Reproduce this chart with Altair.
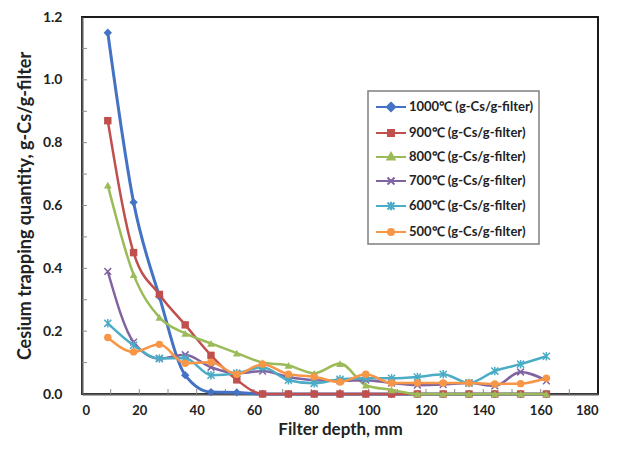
import altair as alt
import pandas as pd

depth = [9, 18, 27, 36, 45, 54, 63, 72, 81, 90, 99, 108, 117, 126, 135, 144, 153, 162]

s1000 = [1.15, 0.61, 0.31, 0.06, 0.006, 0.005, 0, 0, 0, 0, 0, 0, 0, 0, 0, 0, 0, 0]
s900 = [0.87, 0.45, 0.317, 0.22, 0.123, 0.045, 0, 0, 0, 0, 0, 0, 0, 0, 0, 0, 0, 0]
s800 = [0.665, 0.38, 0.244, 0.193, 0.161, 0.13, 0.1, 0.091, 0.066, 0.097, 0.028, 0.013, 0, 0, 0, 0, 0, 0]
s700 = [0.39, 0.165, 0.113, 0.125, 0.085, 0.066, 0.073, 0.054, 0.044, 0.042, 0.044, 0.035, 0.028, 0.03, 0.035, 0.026, 0.07, 0.042]
s600 = [0.225, 0.155, 0.113, 0.114, 0.06, 0.066, 0.085, 0.044, 0.034, 0.047, 0.05, 0.05, 0.054, 0.063, 0.035, 0.073, 0.095, 0.12]
s500 = [0.18, 0.134, 0.158, 0.098, 0.101, 0.063, 0.095, 0.063, 0.055, 0.038, 0.063, 0.035, 0.035, 0.035, 0.035, 0.032, 0.033, 0.05]

names = ["1000℃ (g-Cs/g-filter)", "900℃ (g-Cs/g-filter)", "800℃ (g-Cs/g-filter)",
         "700℃ (g-Cs/g-filter)", "600℃ (g-Cs/g-filter)", "500℃ (g-Cs/g-filter)"]
values = [s1000, s900, s800, s700, s600, s500]
colors = ["#4472C4", "#C0504D", "#9BBB59", "#8064A2", "#4BACC6", "#F79646"]

x_ticks = list(range(0, 190, 20))
y_ticks = [0.0, 0.2, 0.4, 0.6, 0.8, 1.0, 1.2]
x_minor = list(range(10, 180, 10))
y_minor = [0.1, 0.2, 0.3, 0.4, 0.5, 0.6, 0.7, 0.8, 0.9, 1.0, 1.1]

# marker shapes (plot) and legend symbols (line + marker)
marker_shapes = ["diamond", "square", "triangle-up",
                 "M-1,-1L1,1M-1,1L1,-1",
                 "M-1,-1L1,1M-1,1L1,-1M0,-1.2L0,1.2",
                 "circle"]
marker_filled = [True, True, True, False, False, True]
marker_sizes = [70, 55, 60, 45, 50, 55]
line_widths = [3, 2.5, 2.5, 2.5, 2.5, 2.5]
line_seg = "M-1.5,0L1.5,0"
legend_paths = [
    line_seg + "M0,-0.42L0.42,0L0,0.42L-0.42,0Z",
    line_seg + "M-0.3,-0.3L0.3,-0.3L0.3,0.3L-0.3,0.3Z",
    line_seg + "M0,-0.4L0.36,0.26L-0.36,0.26Z",
    line_seg + "M-0.35,-0.35L0.35,0.35M-0.35,0.35L0.35,-0.35",
    line_seg + "M-0.35,-0.35L0.35,0.35M-0.35,0.35L0.35,-0.35M0,-0.42L0,0.42",
    line_seg + "M-0.3,0A0.3,0.3 0 1,0 0.3,0A0.3,0.3 0 1,0 -0.3,0Z",
]

rows = []
for n, vals in zip(names, values):
    for d, v in zip(depth, vals):
        rows.append({"depth": d, "value": v, "series": n})
df = pd.DataFrame(rows)

PLOT_H = 377

xscale = alt.Scale(domain=[0, 180], nice=False, zero=False)
yscale = alt.Scale(domain=[0, 1.2], nice=False)
xaxis = alt.Axis(values=x_ticks, title="Filter depth, mm", labelPadding=10, titlePadding=4, tickSize=0,
                 labelFontSize=13, titleFontSize=17)
yaxis = alt.Axis(values=y_ticks, format=".1f", title="Cesium trapping quantity, g-Cs/g-filter",
                 labelPadding=20, titlePadding=8, tickSize=0)

X = alt.X("depth:Q", scale=xscale, axis=xaxis)
Y = alt.Y("value:Q", scale=yscale, axis=yaxis)

xt = pd.DataFrame({"t": x_minor})
yt = pd.DataFrame({"t": y_minor})
xtick_layer = alt.Chart(xt).mark_rule(color="#8c8c8c", strokeWidth=1).encode(
    x=alt.X("t:Q", scale=xscale, axis=xaxis), y=alt.value(PLOT_H), y2=alt.value(PLOT_H - 5))
ytick_layer = alt.Chart(yt).mark_rule(color="#8c8c8c", strokeWidth=1).encode(
    y=alt.Y("t:Q", scale=yscale, axis=yaxis), x=alt.value(0), x2=alt.value(5))

series_layers = []
for n, c, shp, filled, sz, lw in zip(names, colors, marker_shapes, marker_filled, marker_sizes, line_widths):
    base = alt.Chart(df).transform_filter(alt.datum.series == n)
    series_layers.append(
        base.mark_line(interpolate="monotone", strokeWidth=lw, color=c).encode(x=X, y=Y)
    )
    series_layers.append(
        base.mark_point(shape=shp, filled=filled, color=c, size=sz, opacity=1,
                        strokeWidth=1.5 if not filled else 1).encode(x=X, y=Y)
    )

leg = alt.Legend(title=None, orient="none", legendX=286, legendY=74)
legend_layer = alt.Chart(df).mark_point(
    filled=True, opacity=0, strokeWidth=2).encode(
    x=X, y=Y,
    fill=alt.Fill("series:N", scale=alt.Scale(domain=names, range=colors), legend=leg),
    stroke=alt.Stroke("series:N", scale=alt.Scale(domain=names, range=colors), legend=leg),
    shape=alt.Shape("series:N", scale=alt.Scale(domain=names, range=legend_paths), legend=leg),
)

chart = alt.layer(xtick_layer, ytick_layer, *series_layers, legend_layer).properties(
    width=516, height=PLOT_H,
    padding={"left": 74, "top": 9, "right": 14, "bottom": 48},
    autosize=alt.AutoSizeParams(type="none"),
).configure_view(
    stroke="#1a1a1a", strokeWidth=2
).configure_axis(
    domainColor="#595959", domainWidth=2, grid=False,
    labelFont="Lato", labelFontWeight="bold", labelFontSize=14, labelColor="#222222",
    titleFont="Lato", titleFontWeight="bold", titleFontSize=18, titleColor="#222222",
).configure_legend(
    padding=5, symbolOpacity=1,
    strokeColor="#7f7f7f", strokeWidth=1.5, fillColor="white",
    symbolSize=400, symbolStrokeWidth=2, rowPadding=6, labelOffset=7, symbolOffset=7,
    labelFont="Lato", labelFontSize=13, labelFontWeight="bold", labelColor="#222222",
)

chart.save("out.html", embed_options={"renderer": "svg", "actions": False})
